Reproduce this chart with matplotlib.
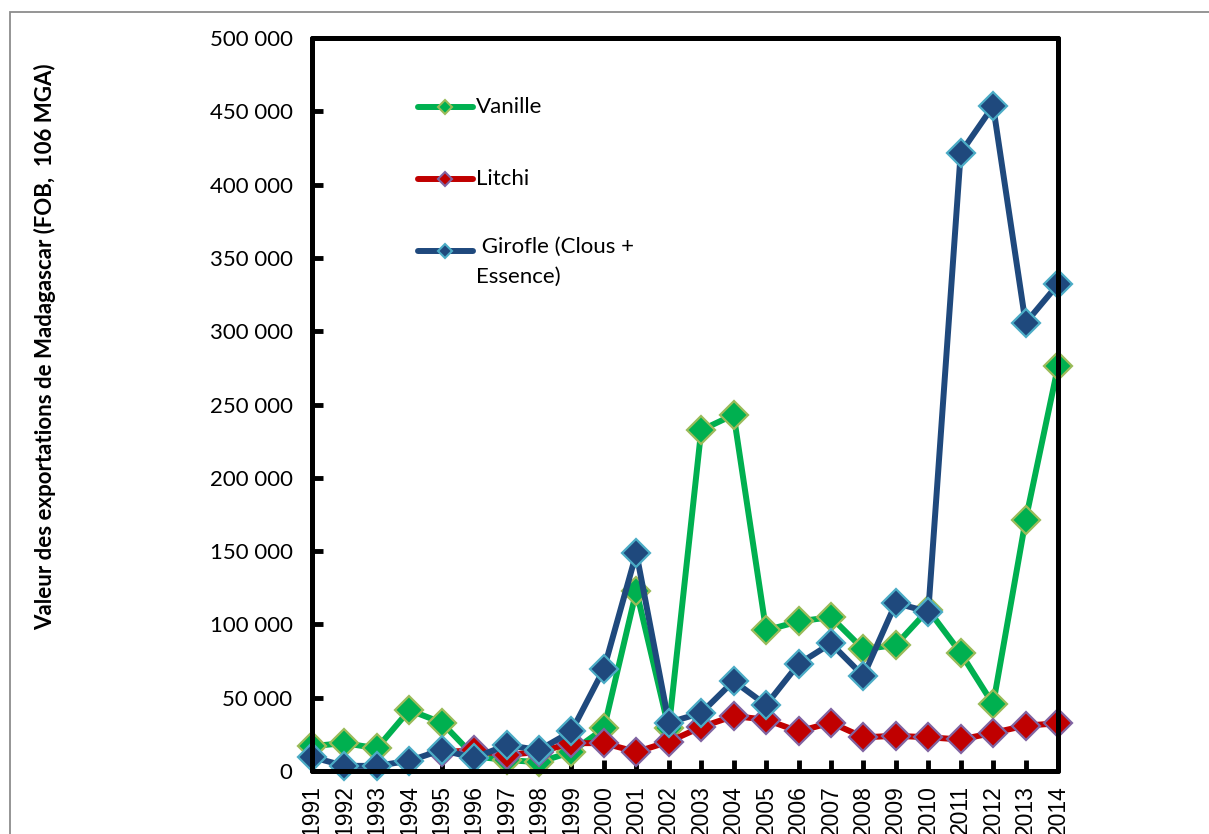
import matplotlib.pyplot as plt
from matplotlib.lines import Line2D
from matplotlib.patches import Rectangle

years = list(range(1991, 2015))
vanille = [17000, 19000, 15500, 41500, 33000, 10000, 7500, 6000, 13000, 29000,
           123000, 29000, 232500, 243000, 96000, 102000, 105000, 83000, 86000, 110000,
           80500, 45500, 171000, 276000]
litchi_years = list(range(1995, 2015))
litchi = [13000, 14000, 11000, 13000, 19000, 19000, 13000, 20000, 30000, 37500,
          35000, 27000, 33000, 23000, 24000, 23000, 21500, 26000, 31000, 32500]
girofle = [9500, 3500, 3500, 7000, 14300, 8900, 17700, 14300, 27000, 69600,
           148700, 33000, 39600, 61400, 45000, 73000, 87000, 64800, 114600, 108500,
           421600, 453600, 305600, 332000]

yticks = list(range(0, 500001, 50000))
ytick_labels = [f"{v:,}".replace(",", " ") for v in yticks]

series = [
    ("Vanille", years, vanille, "#00B050", "#9BBB59"),
    ("Litchi", litchi_years, litchi, "#C00000", "#8064A2"),
    (" Girofle (Clous +\nEssence)", years, girofle, "#1F497D", "#4BACC6"),
]

W, H = 1209, 834
fig = plt.figure(figsize=(W / 100, H / 100), dpi=100)
ax = fig.add_axes([312 / W, 1 - 771 / H, (1058 - 312) / W, (771 - 38) / H])

for name, xs, ys, col, edge in series:
    ax.plot(xs, ys, color=col, lw=4.3, marker="D", ms=14, mfc=col, mec=edge,
            mew=1.6, clip_on=False, solid_joinstyle="round")

ax.set_xlim(1991, 2014)
ax.set_ylim(0, 500000)
ax.set_xticks(years)
ax.set_xticklabels([str(y) for y in years], rotation=90, fontsize=16.5,
                   family="Liberation Sans", va="top")
ax.set_yticks(yticks)
ax.set_yticklabels(ytick_labels, fontsize=16, family="Lato")
ax.tick_params(axis="both", direction="in", length=8, width=3.5, color="black")
ax.tick_params(axis="y", pad=14)
ax.tick_params(axis="x", pad=10)
for s in ax.spines.values():
    s.set_linewidth(3.6)
    s.set_capstyle("round")

fig.text(45 / W, 1 - 347 / H,
         "Valeur des exportations de Madagascar (FOB,  106 MGA)",
         rotation=90, ha="center", va="center", fontsize=16,
         fontweight="bold", family="Lato")

# hand-placed legend keys
rows = [107, 179, 251]
for (name, xs, ys, col, edge), yy in zip(series, rows):
    fy = 1 - yy / H
    fig.add_artist(Line2D([418 / W, 473 / W], [fy, fy], color=col, lw=4.3,
                          solid_capstyle="round", transform=fig.transFigure))
    fig.add_artist(Line2D([445 / W], [fy], marker="D", ms=7, mfc=col, mec=edge,
                          mew=1.5, transform=fig.transFigure))
    if "\n" in name:
        fig.text(476 / W, fy + 14 / H, name, ha="left", va="top", fontsize=16,
                 family="Lato", linespacing=1.6)
    else:
        fig.text(476 / W, fy, name, ha="left", va="center", fontsize=16,
                 family="Lato")

fig.add_artist(Rectangle((10 / W, -0.5), 2, 0.5 + (1 - 12 / H), fill=False,
                         edgecolor="#8c8c8c", lw=1.3, transform=fig.transFigure))

fig.savefig("out.png", dpi=100)
